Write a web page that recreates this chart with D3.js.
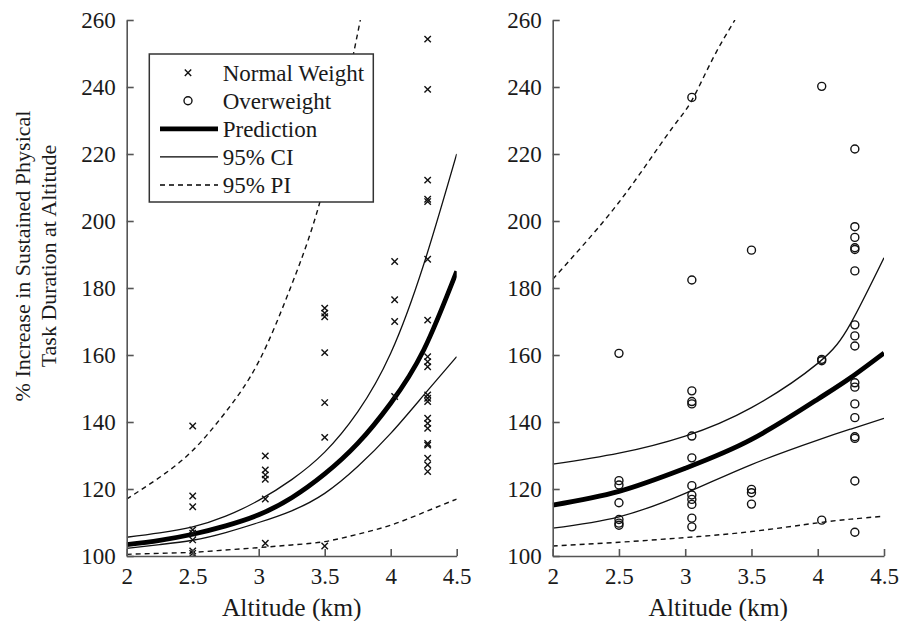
<!DOCTYPE html>
<html lang="en">
<head>
  <meta charset="UTF-8" />
  <title>Altitude and task duration</title>
  <style>
  body { margin: 0; background: #fff; }
  svg text { font-family: "Liberation Serif", "Times New Roman", serif; fill: #1a1a1a; }
  .axis path, .axis line { stroke: #555; stroke-width: 1.6; }
  .axis text { font-size: 23px; font-family: "Liberation Serif", serif; }
  </style>
</head>
<body>
  <div id="chart"></div>

  <script src="https://cdn.jsdelivr.net/npm/d3@7"></script>
  <script>
  // ---- data ----
  var xTicks = [2, 2.5, 3, 3.5, 4, 4.5];
  var yTicks = [100, 120, 140, 160, 180, 200, 220, 240, 260];
  var groupX = [2.5, 3.05, 3.5, 4.03, 4.28];

  // normal weight subjects (x markers), one list per altitude
  var normalWeight = [
    [138.8, 117.9, 114.7, 107.8, 106.8, 104.8, 101.5, 100.8],
    [129.9, 125.7, 124.2, 122.9, 117, 103.8],
    [174, 172.5, 171.4, 160.7, 145.8, 135.4, 103],
    [187.9, 176.5, 170, 147.6],
    [254.3, 239.3, 212.2, 206.5, 205.8, 188.6, 170.4, 159.5, 158, 156.5, 148.1, 147.1, 146.1,
     141.1, 139.6, 138.1, 133.6, 133.1, 129.2, 127.2, 125.2]
  ];

  // overweight subjects (circles)
  var overweight = [
    [160.5, 122.5, 121.2, 115.9, 110.9, 109.8, 109.2],
    [236.9, 182.4, 149.3, 146.1, 145.4, 135.8, 129.3, 121, 118.2, 116.9, 115.4, 111.3, 108.7],
    [191.3, 119.9, 118.9, 115.5],
    [240.2, 158.7, 158.3, 110.7],
    [221.5, 198.3, 195.1, 192, 191.5, 185.1, 169, 165.7, 162.7, 151.7, 150.4, 145.4, 141.3,
     135.6, 135.1, 122.4, 107.1]
  ];

  // model curves, normal weight panel
  var normalX = [2, 2.25, 2.5, 2.75, 3, 3.25, 3.5, 3.75, 4, 4.25, 4.5];
  var normalPred = [103.4, 104.7, 106.5, 109, 112.3, 117.4, 124.5, 133.6, 145.6, 161.5, 185];
  var normalCIup = [105.6, 106.9, 108.7, 111.9, 116.6, 122.8, 131, 143, 160.5, 187, 220];
  var normalCIlo = [102.3, 103.4, 104.7, 107, 110, 113.5, 118.7, 126.7, 136.6, 148, 159.5];
  var normalPIlo = [100.5, 100.8, 101.1, 101.8, 102.5, 103.3, 104.3, 106.5, 109.2, 113, 117];
  var normalPIupX = [2, 2.25, 2.5, 2.75, 3, 3.25, 3.5, 3.77];
  var normalPIup = [117, 123.5, 131.5, 143, 158, 181, 211, 260];

  // model curves, overweight panel
  var overX = [2, 2.5, 3, 3.5, 4, 4.25, 4.5];
  var overPred = [115.2, 119.3, 126.2, 134.8, 146.8, 153.3, 160.6];
  var overCIup = [127.4, 130.7, 135.8, 144.3, 157.5, 169.5, 189];
  var overCIlo = [108.3, 111.7, 118.7, 127.3, 134.6, 137.9, 141.1];
  var overPIlo = [103, 104.1, 105.5, 107.3, 109.9, 111, 111.9];
  var overPIupX = [2, 2.38, 2.66, 2.91, 3.05, 3.21, 3.375];
  var overPIup = [182.6, 199.7, 214.2, 228.2, 236, 248.6, 260];

  var legendItems = ["Normal Weight", "Overweight", "Prediction", "95% CI", "95% PI"];

  var width = 901, height = 621;
  var plotTop = 20, plotBottom = 556;

  var svg = d3.select("#chart").append("svg")
    .attr("width", width)
    .attr("height", height)
    .attr("font-family", "Liberation Serif, serif");

  var y = d3.scaleLinear().domain([100, 260]).range([plotBottom, plotTop]);

  function zip(xs, ys) {
    return xs.map(function(d, i) { return [d, ys[i]]; });
  }

  function drawPanel(opts) {
    var x = d3.scaleLinear().domain([2, 4.5]).range([opts.left, opts.right]);
    var g = svg.append("g");

    var clipId = "clip" + opts.id;
    svg.append("clipPath").attr("id", clipId)
      .append("rect")
        .attr("x", opts.left).attr("y", plotTop)
        .attr("width", opts.right - opts.left).attr("height", plotBottom - plotTop);

    var line = d3.line()
      .x(function(d) { return x(d[0]); })
      .y(function(d) { return y(d[1]); })
      .curve(d3.curveNatural);

    var curves = g.append("g").attr("clip-path", "url(#" + clipId + ")");

    curves.append("path").datum(zip(opts.piUpX, opts.piUp))
      .attr("d", line).attr("fill", "none").attr("stroke", "#111")
      .attr("stroke-width", 1.4).attr("stroke-dasharray", "5,4");
    curves.append("path").datum(zip(opts.cx, opts.piLo))
      .attr("d", line).attr("fill", "none").attr("stroke", "#111")
      .attr("stroke-width", 1.4).attr("stroke-dasharray", "5,4");

    [opts.ciUp, opts.ciLo].forEach(function(vals) {
      curves.append("path").datum(zip(opts.cx, vals))
        .attr("d", line).attr("fill", "none").attr("stroke", "#111")
        .attr("stroke-width", 1.3);
    });

    // points
    var pts = [];
    opts.points.forEach(function(list, i) {
      list.forEach(function(v) { pts.push([groupX[i], v]); });
    });

    if (opts.marker == "x") {
      g.selectAll(".pt").data(pts).enter().append("path")
        .attr("class", "pt")
        .attr("transform", function(d) { return "translate(" + x(d[0]) + "," + y(d[1]) + ")"; })
        .attr("d", "M-3.2,-3.2L3.2,3.2M-3.2,3.2L3.2,-3.2")
        .attr("stroke", "#111").attr("stroke-width", 1.4);
    } else {
      g.selectAll(".pt").data(pts).enter().append("circle")
        .attr("class", "pt")
        .attr("cx", function(d) { return x(d[0]); })
        .attr("cy", function(d) { return y(d[1]); })
        .attr("r", 4)
        .attr("fill", "none").attr("stroke", "#111").attr("stroke-width", 1.4);
    }

    curves.append("path").datum(zip(opts.cx, opts.pred))
      .attr("d", line).attr("fill", "none").attr("stroke", "#000")
      .attr("stroke-width", 4.8);

    // axes, ticks pointing inward
    g.append("g").attr("class", "axis")
      .attr("transform", "translate(0," + plotBottom + ")")
      .call(d3.axisBottom(x).tickValues(xTicks).tickFormat(d3.format("~g"))
        .tickSizeInner(-7).tickSizeOuter(0).tickPadding(12));

    g.append("g").attr("class", "axis")
      .attr("transform", "translate(" + opts.left + ",0)")
      .call(d3.axisLeft(y).tickValues(yTicks).tickSizeInner(-7).tickSizeOuter(0).tickPadding(11));

    g.append("text")
      .attr("x", (opts.left + opts.right) / 2)
      .attr("y", 616)
      .attr("text-anchor", "middle")
      .style("font-size", "25.5px")
      .text("Altitude (km)");

    return x;
  }

  drawPanel({
    id: 1, left: 126.7, right: 456.7, marker: "x", points: normalWeight, cx: normalX,
    pred: normalPred, ciUp: normalCIup, ciLo: normalCIlo,
    piLo: normalPIlo, piUpX: normalPIupX, piUp: normalPIup
  });

  drawPanel({
    id: 2, left: 552.7, right: 884, marker: "o", points: overweight, cx: overX,
    pred: overPred, ciUp: overCIup, ciLo: overCIlo,
    piLo: overPIlo, piUpX: overPIupX, piUp: overPIup
  });

  // y label, two lines
  var ylab = svg.append("text")
    .attr("transform", "translate(22,256) rotate(-90)")
    .attr("text-anchor", "middle")
    .style("font-size", "22px");
  ylab.append("tspan").attr("x", 0).attr("dy", "0.35em").text("% Increase in Sustained Physical");
  ylab.append("tspan").attr("x", 0).attr("dy", "1.18em").text("Task Duration at Altitude");

  // legend
  var leg = svg.append("g");
  leg.append("rect")
    .attr("x", 149.3).attr("y", 54)
    .attr("width", 224).attr("height", 148)
    .attr("fill", "#fff").attr("stroke", "#333").attr("stroke-width", 1.5);

  var rowY = d3.scalePoint().domain(legendItems).range([72.7, 185]);

  legendItems.forEach(function(name, i) {
    var yy = rowY(name);
    if (i == 0) {
      leg.append("path")
        .attr("transform", "translate(188," + yy + ")")
        .attr("d", "M-3.2,-3.2L3.2,3.2M-3.2,3.2L3.2,-3.2")
        .attr("stroke", "#111").attr("stroke-width", 1.4);
    } else if (i == 1) {
      leg.append("circle").attr("cx", 188).attr("cy", yy).attr("r", 4)
        .attr("fill", "none").attr("stroke", "#111").attr("stroke-width", 1.4);
    } else {
      leg.append("line")
        .attr("x1", 160).attr("x2", 218).attr("y1", yy).attr("y2", yy)
        .attr("stroke", "#000")
        .attr("stroke-width", i == 2 ? 4.8 : 1.3)
        .attr("stroke-dasharray", i == 4 ? "5,4" : null);
    }
    leg.append("text")
      .attr("x", 222.7).attr("y", yy)
      .attr("dy", "0.35em")
      .style("font-size", "23px")
      .text(name);
  });
  </script>
</body>
</html>
